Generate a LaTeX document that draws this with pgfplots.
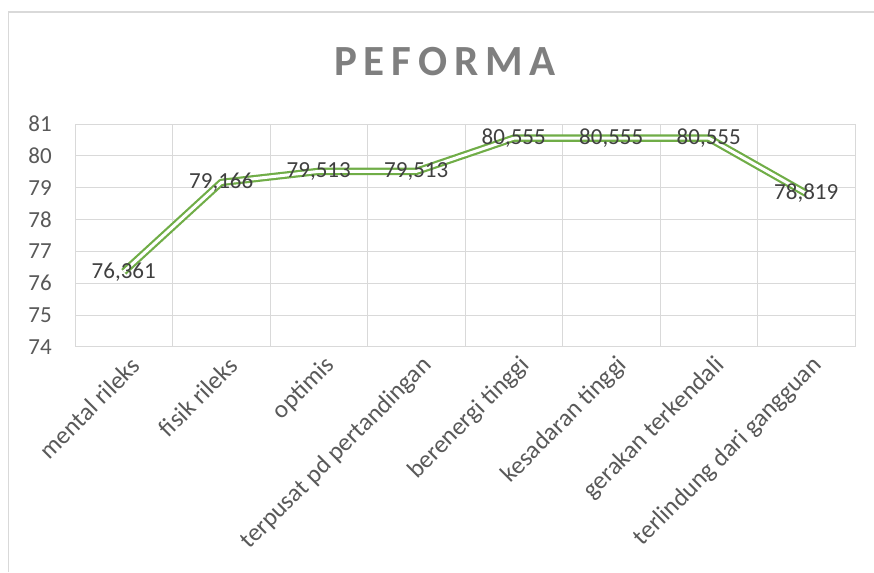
\documentclass[border=0pt]{standalone}
\usepackage{pgfplots}
\pgfplotsset{compat=1.18}
\usepackage{fontspec}
\setmainfont{Carlito}
\newfontfamily\titlefont[LetterSpace=16]{Carlito}
\definecolor{linegreen}{HTML}{70AD47}
\definecolor{gridgray}{HTML}{D9D9D9}
\definecolor{tickgray}{HTML}{595959}
\definecolor{labelgray}{HTML}{404040}
\definecolor{titlegray}{HTML}{7F7F7F}
\definecolor{bordergray}{HTML}{D9D9D9}
\begin{document}
\begin{tikzpicture}[x=1pt,y=1pt]
\useasboundingbox (0,0) rectangle (874,572);
\fill[white] (0,0) rectangle (874,572);
\draw[bordergray, line width=1.6pt] (8.5,0) -- (8.5,560) -- (874,560);
\node[text=titlegray, anchor=center] at (445,510) {\titlefont\bfseries\fontsize{43}{43}\selectfont PEFORMA};
\begin{axis}[
  at={(75pt,225pt)}, anchor=south west,
  scale only axis, width=780pt, height=223pt,
  xmin=-0.5, xmax=7.5, ymin=74, ymax=81,
  ytick={74,75,76,77,78,79,80,81},
  xtick={0,1,2,3,4,5,6,7},
  xticklabels={mental rileks, fisik rileks, optimis, terpusat pd pertandingan, berenergi tinggi, kesadaran tinggi, gerakan terkendali, terlindung dari gangguan},
  minor xtick={-0.5,0.5,1.5,2.5,3.5,4.5,5.5,6.5,7.5},
  major tick length=0pt, minor tick length=0pt,
  ymajorgrids, xminorgrids,
  grid style={gridgray, line width=1pt},
  minor grid style={gridgray, line width=1pt},
  axis line style={gridgray, line width=1pt},
  /pgf/number format/assume math mode=true,
  yticklabel style={font=\fontsize{23}{23}\selectfont, text=tickgray, inner sep=0pt, xshift=-23pt},
  xticklabel style={font=\fontsize{25}{25}\selectfont, text=tickgray, rotate=45, anchor=east, inner sep=0pt, yshift=-19pt, xshift=-2pt},
  clip=false,
]
\addplot[linegreen, line width=2.2pt, double=white, double distance=3pt, line join=round,
  nodes near coords, point meta=explicit symbolic,
  every node near coord/.style={anchor=center, text=labelgray, font=\fontsize{23}{23}\selectfont, inner sep=0pt}]
  table[x=x, y=y, meta=lab] {
x y lab
0 76.361 76,361
1 79.166 79,166
2 79.513 79,513
3 79.513 79,513
4 80.555 80,555
5 80.555 80,555
6 80.555 80,555
7 78.819 78,819
};
\end{axis}
\end{tikzpicture}
\end{document}
